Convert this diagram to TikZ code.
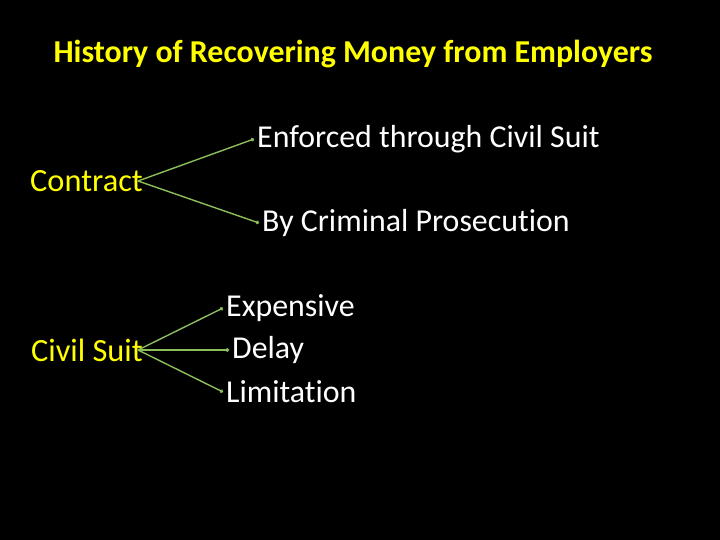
\documentclass[tikz,border=0pt]{standalone}
\usepackage{fontspec}
\setmainfont{Carlito}[Ligatures=NoCommon]
\usetikzlibrary{arrows.meta, positioning}
\definecolor{slidegreen}{RGB}{140,190,90}
\definecolor{slideyellow}{RGB}{255,255,0}
\tikzset{
  >={Circle[length=3.5bp]},
  % Texte
  head/.style={slideyellow,font=\bfseries\fontsize{32}{36}\selectfont,inner sep=0},
  topic/.style={slideyellow,font=\fontsize{32.5}{36}\selectfont,anchor=east,inner sep=0},
  item/.style={white,font=\fontsize{32}{36}\selectfont,anchor=west,inner sep=3bp},
  % Linee
  branch/.style={->,slidegreen,line width=1.4bp}
}
\begin{document}
\begin{tikzpicture}[x=1bp,y=-1bp]
        \useasboundingbox[fill=black] (0,0) rectangle (720,540);
        \node[head] (title) at (353,54) {History of Recovering Money from Employers};
        % Contract
        \node[topic] (contract) at (143,181) {Contract};
        \node[item] (enforced) at (254,139) {Enforced through Civil Suit};
        \node[item] (criminal) at (259,223) {By Criminal Prosecution};
        \draw[branch] ([xshift=-5bp]contract.east) -- (enforced.west);
        \draw[branch] ([xshift=-5bp]contract.east) -- (criminal.west);
        % Civil Suit
        \node[topic] (civilsuit) at (143,350) {Civil Suit};
        \node[item] (expensive) at (223,308) {Expensive};
        \node[item] (delay) at (229,350) {Delay};
        \node[item] (limitation) at (223,392) {Limitation};
        \draw[branch] ([xshift=-5bp]civilsuit.east) -- (expensive.west);
        \draw[branch] ([xshift=-5bp]civilsuit.east) -- (delay.west);
        \draw[branch] ([xshift=-5bp]civilsuit.east) -- (limitation.west);
      \end{tikzpicture}
\end{document}
